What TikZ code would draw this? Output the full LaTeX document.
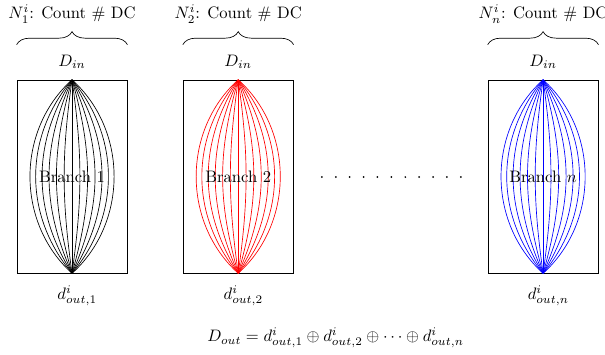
\documentclass[tikz,border=0pt]{standalone}
\usetikzlibrary{decorations.pathreplacing}

\begin{document}
\begin{tikzpicture}
  \tikzset{
    branchbox/.style={draw,minimum width=2.33cm,minimum height=4.08cm,inner sep=0pt},
    curlybrace/.style={decorate,decoration={brace,amplitude=2.75mm}}
  }
  \useasboundingbox (0,0) rectangle (12.8,7.49);
  \foreach \x/\c/\k in {1.524/black/1, 5.04/red/2, 11.49/blue/n} {
    \node[branchbox] (box\k) at (\x,3.755) {};
    \foreach \a in {-48,-40,...,48}
      \draw[\c] (box\k.north) to[bend left=\a] (box\k.south);
    \node (lbl\k) at (box\k) {Branch $\k$};
    \coordinate (bl\k) at ([yshift=7.43mm]box\k.north west);
    \coordinate (br\k) at ([yshift=7.43mm]box\k.north east);
    \draw[curlybrace] (bl\k) -- (br\k);
    \node (din\k) at (\x,6.18) {$D_{in}$};
    \node (cnt\k) at (\x,7.19) {$N^i_\k$: Count \# DC};
    \node (dout\k) at (\x+0.11,1.23) {$d^i_{out,\k}$};
  }
  % dots between branch 2 and branch n
  \foreach \i in {0,...,10}
    \fill (6.81+0.294*\i,3.745) circle (0.6pt);
  \node (douteq) at (7.1,0.34)
    {$D_{out} = d^i_{out,1} \oplus d^i_{out,2} \oplus \cdots \oplus d^i_{out,n}$};
\end{tikzpicture}
\end{document}
